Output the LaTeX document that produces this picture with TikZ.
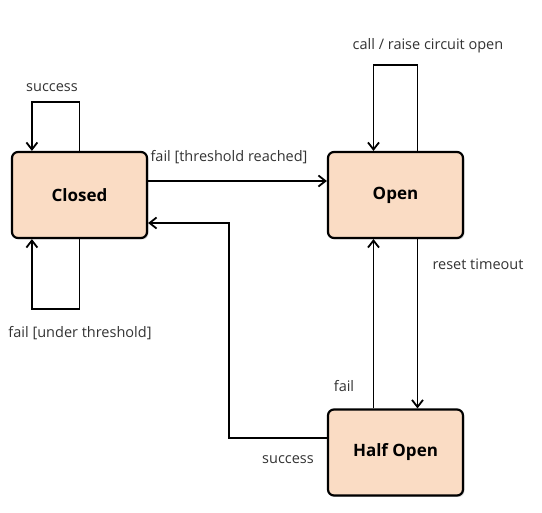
\documentclass[tikz,border=0pt]{standalone}
\usepackage{fontspec}
\setmainfont{Open Sans}
\usetikzlibrary{calc,arrows.meta,shadows}
\definecolor{statefill}{RGB}{250,220,196}

\begin{document}
\begin{tikzpicture}[x=1pt, y=-1pt,
    state/.style={draw, line width=2.2pt, rounded corners=6pt, fill=statefill, minimum width=135pt, minimum height=86pt, font=\fontsize{17}{20}\selectfont\bfseries, drop shadow={shadow xshift=1.5pt, shadow yshift=-1.5pt, opacity=0.3}},
    arr/.style={line width=1.8pt, -{Straight Barb[length=7pt, width=11pt, line width=1.8pt]}},
    lbl/.style={font=\fontsize{14.5}{17}\selectfont, text=black!80, inner sep=0pt}]
                    \useasboundingbox (0, 0) rectangle (542, 513);
                    \coordinate (c) at (79.5, 195);
                    \coordinate (o) at (395.5, 195);
                    \coordinate (h) at (395.5, 452.5);
                    \node [state] (closed) at (c) {Closed};
                    \node [state] (open) at (o) {Open};
                    \node [state] (half) at (h) {Half Open};

                    \draw [arr] (closed.north) -- ++(0, -49) -| ($ (closed.north west) + (21, 0) $);
                    \draw [arr] (closed.south) -- ++(0, 70) -| ($ (closed.south west) + (21, 0) $);
                    \draw [arr] ([yshift=14pt] closed.east) -- ([yshift=14pt] open.west);
                    \draw [arr] ([xshift=22pt] open.north) -- ++(0, -86) -| ([xshift=-22pt] open.north);
                    \draw [arr] ([xshift=22pt] open.south) -- ([xshift=22pt] half.north);
                    \draw [arr] ([xshift=-22pt] half.north) -- ([xshift=-22pt] open.south);
                    \draw [arr] ([yshift=14.5pt] half.west) -- ++(-98, 0) |- ([yshift=-28pt] closed.east);

                    \node [lbl] (l1) at (52, 88) {success};
                    \node [lbl] (l2) at (80, 333) {fail [under threshold]};
                    \node [lbl] (l3) at (229, 157) {fail [threshold reached]};
                    \node [lbl] (l4) at (428, 46) {call / raise circuit open};
                    \node [lbl] (l5) at (478, 264) {reset timeout};
                    \node [lbl] (l6) at (344, 386) {fail};
                    \node [lbl] (l7) at (288, 460) {success};
\end{tikzpicture}
\end{document}
